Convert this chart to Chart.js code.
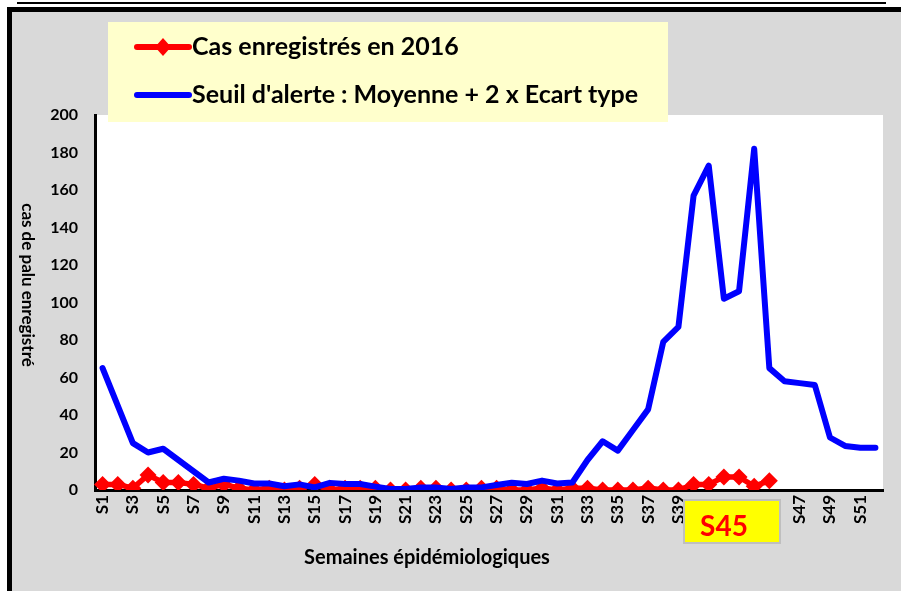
<!DOCTYPE html>
<html>
<head>
<meta charset="utf-8">
<script src="https://cdn.jsdelivr.net/npm/chart.js@4"></script>
<style>
  html, body { margin:0; padding:0; background:#fff; }
  #wrap { width:901px; height:591px; position:relative; }
</style>
</head>
<body>
<div id="wrap"><canvas id="chart" width="901" height="591"></canvas></div>
<script>
// ===== Paludisme — seuil d'alerte 2016 =====

const WEEKS = Array.from({ length: 52 }, (_, i) => 'S' + (i + 1));

// cas enregistrés en 2016 (S1 -> S45)
const CAS_2016 = [
  3, 3, 1, 8, 4, 4, 3, 1, 3, 1,
  0, 1, 0, 1, 3, 0, 1, 1, 1, 0,
  0, 1, 1, 0, 0, 1, 1, 0, 0, 1,
  0, 1, 1, 0, 0, 0, 1, 0, 0, 3,
  3, 7, 7, 2, 5
];

// seuil d'alerte : moyenne + 2 x écart type
const SEUIL = [
  65, 45, 25, 20, 22, 16, 10, 4, 6, 5,
  3.5, 3.5, 2, 3, 1.4, 3.8, 3.2, 3.2, 1.8, 0.5,
  0.5, 1.4, 1.4, 0.5, 1.4, 1.4, 2.7, 3.9, 3.2, 5,
  3.5, 4, 16, 26, 21, 32, 43, 79, 87, 157,
  173, 102, 106, 182, 65, 58, 57, 56, 28, 23.5,
  22.5, 22.5
];

const Y_TICKS = { min: 0, max: 200, step: 20 };
const HIDDEN_WEEKS = ['S41', 'S43', 'S45'];   // sous l'encadré S45

const FONT = 'Lato, "Open Sans", sans-serif';
const RED = '#ff0000', BLUE = '#0000ff';

const frame = {
  id: 'frame',
  beforeDraw(chart) {
    const { ctx, chartArea: a } = chart;
    ctx.save();
    ctx.fillStyle = '#fff';
    ctx.fillRect(0, 0, 901, 591);
    // thin line at top
    ctx.fillStyle = '#000';
    ctx.fillRect(17, 2, 869, 2);
    // grey panel + thick border
    ctx.fillStyle = '#d9d9d9';
    ctx.fillRect(7, 7, 894, 584);
    ctx.fillStyle = '#000';
    ctx.fillRect(7, 7, 894, 5);
    ctx.fillRect(7, 7, 5, 584);
    // plot area
    ctx.fillStyle = '#fff';
    ctx.fillRect(a.left, a.top, a.right - a.left, a.bottom - a.top);
    ctx.restore();
  },
  afterDraw(chart) {
    const ctx = chart.ctx;
    ctx.save();
    // legend box
    ctx.fillStyle = '#ffffcc';
    ctx.fillRect(108, 22, 560, 100);
    const rows = [47, 95];
    chart.data.datasets.forEach((ds, i) => {
      const y = rows[i];
      ctx.strokeStyle = ds.borderColor;
      ctx.lineWidth = 6;
      ctx.lineCap = 'round';
      ctx.beginPath();
      ctx.moveTo(137, y); ctx.lineTo(189, y);
      ctx.stroke();
      if (ds.pointRadius > 0) {
        ctx.fillStyle = ds.borderColor;
        ctx.beginPath();
        ctx.moveTo(163, y - 9); ctx.lineTo(171, y); ctx.lineTo(163, y + 9); ctx.lineTo(155, y);
        ctx.closePath(); ctx.fill();
      }
      ctx.fillStyle = '#000';
      ctx.font = 'bold 25px ' + FONT;
      ctx.textBaseline = 'middle';
      ctx.textAlign = 'left';
      ctx.fillText(ds.label, 192, y);
    });

    // y axis title, reads top to bottom
    ctx.translate(27, 285);
    ctx.rotate(Math.PI / 2);
    ctx.font = 'bold 17px ' + FONT;
    ctx.textAlign = 'center';
    ctx.textBaseline = 'middle';
    ctx.fillStyle = '#000';
    ctx.fillText('cas de palu enregistré', 0, 0);
    ctx.setTransform(1, 0, 0, 1, 0, 0);

    // x axis title
    ctx.font = 'bold 20px ' + FONT;
    ctx.fillText('Semaines épidémiologiques', 427, 558);

    // current week marker
    ctx.fillStyle = '#ffff00';
    ctx.fillRect(684, 500, 96, 43);
    ctx.strokeStyle = '#bfbfbf';
    ctx.lineWidth = 2;
    ctx.strokeRect(684, 500, 96, 43);
    ctx.fillStyle = RED;
    ctx.font = 'bold 28px ' + FONT;
    ctx.fillText('S45', 724, 527);
    ctx.restore();
  }
};

new Chart(document.getElementById('chart'), {
  type: 'line',
  data: {
    labels: WEEKS,
    datasets: [
      {
        label: 'Cas enregistrés en 2016',
        data: CAS_2016,
        borderColor: RED, backgroundColor: RED,
        borderWidth: 5.5, pointStyle: 'rectRot', pointRadius: 8.5,
        pointBorderWidth: 0, tension: 0, order: 1
      },
      {
        label: "Seuil d'alerte : Moyenne + 2 x Ecart type",
        data: SEUIL,
        borderColor: BLUE, backgroundColor: BLUE,
        borderWidth: 6, pointRadius: 0, tension: 0, order: 0,
        borderJoinStyle: 'round', borderCapStyle: 'round'
      }
    ]
  },
  options: {
    responsive: false, animation: false,
    layout: { padding: { left: 0, top: 115, right: 18, bottom: 0 } },
    plugins: { legend: { display: false }, tooltip: { enabled: false } },
    scales: {
      x: {
        offset: true,
        grid: { display: false, drawTicks: false },
        border: { display: true, color: '#000', width: 3 },
        ticks: {
          autoSkip: false, maxRotation: 90, minRotation: 90, padding: 5,
          color: '#000', font: { family: FONT, size: 17, weight: 'bold' },
          callback: (v, i) => (i % 2 === 0 && !HIDDEN_WEEKS.includes(WEEKS[i])) ? WEEKS[i] : ''
        },
        afterFit: s => { s.height = 101; }
      },
      y: {
        min: Y_TICKS.min, max: Y_TICKS.max,
        grid: { display: false, drawTicks: false },
        border: { display: true, color: '#000', width: 3 },
        ticks: {
          stepSize: Y_TICKS.step, padding: 17,
          color: '#000', font: { family: FONT, size: 16, weight: 'bold' }
        },
        afterFit: s => { s.width = 95; }
      }
    }
  },
  plugins: [frame]
});
</script>
</body>
</html>
